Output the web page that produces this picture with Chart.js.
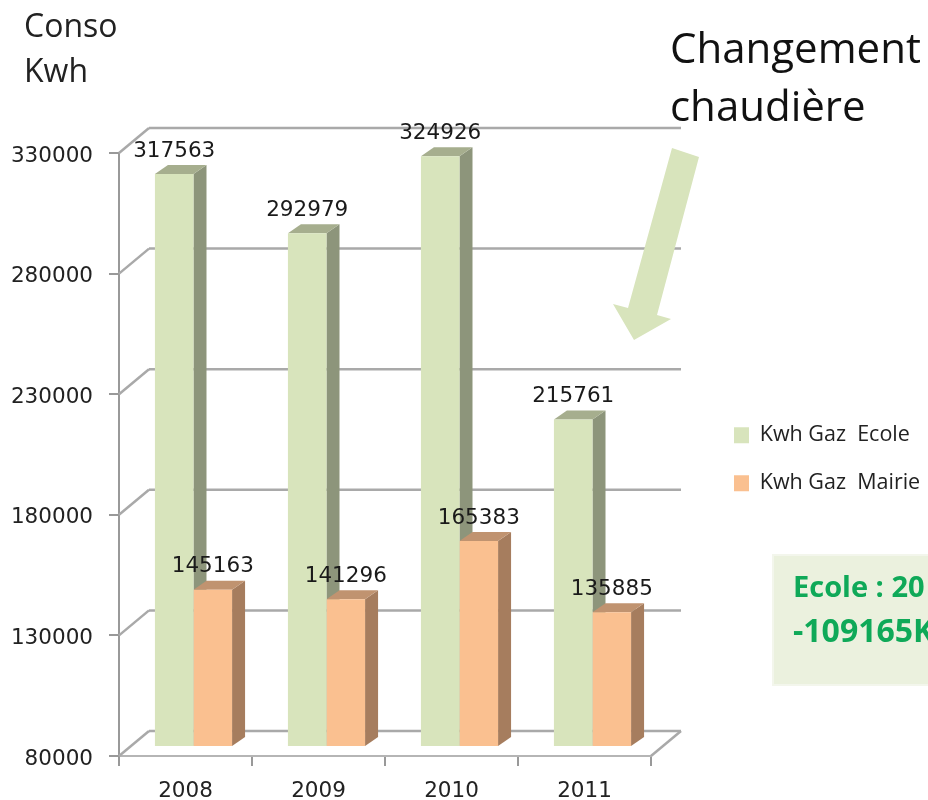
<!DOCTYPE html>
<html>
<head>
<meta charset="utf-8">
<title>Conso Kwh</title>
<script src="https://cdn.jsdelivr.net/npm/chart.js@4"></script>
<style>
    html, body { margin: 0; padding: 0; background: #fff; overflow: hidden; }
    canvas { display: block; }
</style>
</head>
<body>
<canvas id="consoChart" width="928" height="800"></canvas>
<script>
var years = ['2008', '2009', '2010', '2011'];
var ecole = [317563, 292979, 324926, 215761];
var mairie = [145163, 141296, 165383, 135885];
var ecoleLabel = 'Kwh Gaz  Ecole';
var mairieLabel = 'Kwh Gaz  Mairie';

var axisFont = '"DejaVu Sans"';
var noteFont = '"Open Sans"';

// 3D look of the old office chart
var barShift = { x: 8, y: -9 };
var barDepth = { x: 13, y: -9 };
var wallDepth = { x: 30, y: -25 };
var barShades = [
    { side: '#8d957b', top: '#a6ae8e' },
    { side: '#a67d5e', top: '#c09370' }
];

function line(ctx, x1, y1, x2, y2) {
    ctx.beginPath();
    ctx.moveTo(x1, y1);
    ctx.lineTo(x2, y2);
    ctx.stroke();
}

function fillPoly(ctx, pts, color) {
    ctx.fillStyle = color;
    ctx.beginPath();
    pts.forEach(function (p, i) {
        if (i === 0) ctx.moveTo(p[0], p[1]);
        else ctx.lineTo(p[0], p[1]);
    });
    ctx.closePath();
    ctx.fill();
}

var walls = {
    id: 'walls',
    beforeDatasetsDraw: function (chart) {
        var ctx = chart.ctx;
        var yScale = chart.scales.y;
        var left = chart.chartArea.left;
        var right = chart.chartArea.right;
        ctx.save();
        ctx.lineWidth = 2.5;
        ctx.strokeStyle = '#a9a9a9';
        yScale.ticks.forEach(function (t) {
            var py = yScale.getPixelForValue(t.value);
            line(ctx, left, py, left + wallDepth.x, py + wallDepth.y);
            line(ctx, left + wallDepth.x, py + wallDepth.y, right + wallDepth.x, py + wallDepth.y);
        });
        var bottom = chart.chartArea.bottom;
        line(ctx, right, bottom, right + wallDepth.x, bottom + wallDepth.y);
        ctx.restore();
    }
};

var bars3d = {
    id: 'bars3d',
    beforeDatasetsDraw: function (chart) {
        var ctx = chart.ctx;
        chart.data.datasets.forEach(function (ds, d) {
            chart.getDatasetMeta(d).data.forEach(function (bar) {
                var half = bar.width / 2;
                var x1 = bar.x - half + barShift.x;
                var x2 = bar.x + half + barShift.x;
                var top = bar.y + barShift.y;
                var base = bar.base + barShift.y;
                fillPoly(ctx, [[x2, top], [x2 + barDepth.x, top + barDepth.y],
                    [x2 + barDepth.x, base + barDepth.y], [x2, base]], barShades[d].side);
                fillPoly(ctx, [[x1, top], [x1 + barDepth.x, top + barDepth.y],
                    [x2 + barDepth.x, top + barDepth.y], [x2, top]], barShades[d].top);
            });
        });
        ctx.save();
        ctx.translate(barShift.x, barShift.y);
    },
    afterDatasetsDraw: function (chart) {
        var ctx = chart.ctx;
        ctx.restore();
        ctx.save();
        ctx.fillStyle = '#1a1a1a';
        ctx.font = '21.5px ' + axisFont;
        ctx.textAlign = 'center';
        ctx.textBaseline = 'middle';
        chart.data.datasets.forEach(function (ds, d) {
            chart.getDatasetMeta(d).data.forEach(function (bar, i) {
                ctx.fillText(ds.data[i], bar.x + barShift.x, bar.y + barShift.y - 23);
            });
        });
        ctx.restore();
    }
};

var notes = {
    id: 'notes',
    afterLayout: function (chart) {
        // the legend sits right of the plot, outside the chart area
        chart.legend.left = 707.5;
        chart.legend.right = 928;
        chart.legend.top = 398;
        chart.legend.bottom = 560;
    },
    afterDraw: function (chart) {
        var ctx = chart.ctx;
        ctx.save();
        ctx.textBaseline = 'middle';
        ctx.fillStyle = '#222';
        ctx.font = '32px ' + noteFont;
        ctx.fillText('Conso', 24, 28);
        ctx.fillText('Kwh', 24, 73);
        ctx.fillStyle = '#111';
        ctx.font = '42px ' + noteFont;
        ctx.fillText('Changement', 670, 51);
        ctx.fillText('chaudière', 670, 109);

        fillPoly(ctx, [[672, 148], [699, 157], [657, 315], [671, 319], [634, 340], [613, 304], [628, 308]], '#d8e4bc');

        ctx.fillStyle = '#ebf1de';
        ctx.strokeStyle = '#f3f6ec';
        ctx.lineWidth = 2;
        ctx.fillRect(773, 555, 160, 130);
        ctx.strokeRect(773, 555, 160, 130);
        ctx.fillStyle = '#0fa958';
        ctx.font = 'bold 29px ' + noteFont;
        ctx.fillText('Ecole : 20', 793, 589);
        ctx.font = 'bold 32px ' + noteFont;
        ctx.fillText('-109165K', 793, 633);
        ctx.restore();
    }
};

new Chart(document.getElementById('consoChart').getContext('2d'), {
    type: 'bar',
    data: {
        labels: years,
        datasets: [{
            label: ecoleLabel,
            data: ecole,
            base: 80000,
            backgroundColor: '#d8e4bc'
        }, {
            label: mairieLabel,
            data: mairie,
            base: 80000,
            backgroundColor: '#fac090'
        }]
    },
    options: {
        responsive: false,
        animation: false,
        layout: { padding: { top: 153, right: 277, left: 0, bottom: 0 } },
        datasets: {
            bar: { barPercentage: 1, categoryPercentage: 0.58, clip: false }
        },
        plugins: {
            legend: {
                position: 'chartArea',
                align: 'start',
                labels: {
                    boxWidth: 15,
                    boxHeight: 16,
                    padding: 26.5,
                    color: '#222',
                    font: { family: noteFont, size: 21.5 }
                }
            },
            tooltip: { enabled: false }
        },
        scales: {
            x: {
                afterFit: function (scale) { scale.height = 44; },
                grid: { drawOnChartArea: false, color: '#999', tickLength: 10, lineWidth: 2 },
                border: { color: '#b5b5b5', width: 2 },
                ticks: { color: '#222', padding: 13, font: { family: axisFont, size: 21.5 } }
            },
            y: {
                min: 80000,
                max: 330000,
                afterFit: function (scale) { scale.width = 119; },
                grid: { drawOnChartArea: false, color: '#999', tickLength: 10, lineWidth: 2 },
                border: { color: '#999', width: 2 },
                ticks: {
                    stepSize: 50000,
                    color: '#222',
                    padding: 16,
                    labelOffset: 3,
                    font: { family: axisFont, size: 21.5 },
                    callback: function (value) { return String(value); }
                }
            }
        }
    },
    plugins: [walls, bars3d, notes]
});
</script>
</body>
</html>
